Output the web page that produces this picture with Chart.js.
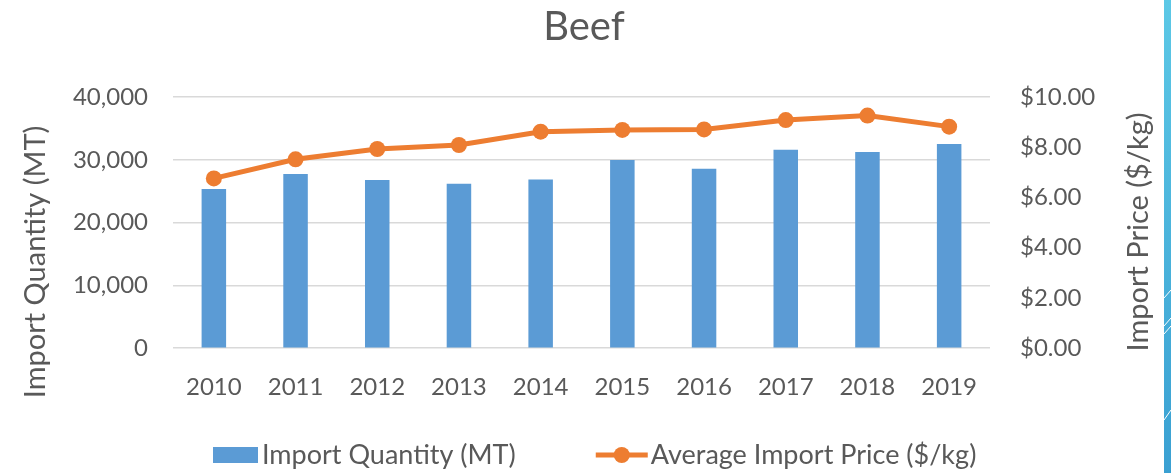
<!DOCTYPE html>
<html>
<head>
<meta charset="utf-8">
<script src="https://cdn.jsdelivr.net/npm/chart.js@4.4.1/dist/chart.umd.min.js"></script>
<style>
  html, body { margin: 0; padding: 0; background: #fff; }
  #wrap { position: relative; width: 1171px; height: 473px; }
  #strip {
    position: absolute; left: 1164px; top: 0; width: 7px; height: 473px;
    background: linear-gradient(#5cc8e6, #3aa0d2);
  }
</style>
</head>
<body>
<div id="wrap">
  <canvas id="chart" width="1171" height="473"></canvas>
  <div id="strip">
    <svg width="7" height="473">
      <g stroke="#fff" stroke-width="1">
        <line x1="0" y1="298" x2="7" y2="290"/>
        <line x1="0" y1="326" x2="7" y2="318"/>
        <line x1="0" y1="334" x2="7" y2="326"/>
        <line x1="0" y1="420" x2="7" y2="410"/>
      </g>
    </svg>
  </div>
</div>
<script>
const years = ['2010', '2011', '2012', '2013', '2014', '2015', '2016', '2017', '2018', '2019']
const importQuantity = [25340, 27730, 26770, 26180, 26880, 29960, 28570, 31600, 31240, 32510]
const avgImportPrice = [6.76, 7.52, 7.93, 8.09, 8.62, 8.69, 8.71, 9.08, 9.26, 8.82]

const textColor = '#595959'
const fontFamily = 'Lato, "Open Sans", sans-serif'

function verticalText(ctx, text, x, y) {
  ctx.save()
  ctx.translate(x, y)
  ctx.rotate(-Math.PI / 2)
  ctx.fillText(text, 0, 0)
  ctx.restore()
}

// legend and both axis titles drawn by hand
const extras = {
  id: 'extras',
  afterDraw(chart) {
    const ctx = chart.ctx
    const area = chart.chartArea
    const bars = chart.data.datasets.find(d => d.type !== 'line')
    const line = chart.data.datasets.find(d => d.type === 'line')
    ctx.save()

    ctx.font = '29px ' + fontFamily
    ctx.fillStyle = textColor
    ctx.textAlign = 'center'
    ctx.textBaseline = 'middle'
    verticalText(ctx, 'Import Quantity (MT)', chart.scales.y.left + 32, area.top + 165)
    verticalText(ctx, 'Import Price ($/kg)', chart.scales.y1.right - 25, area.top + 135)

    ctx.font = '27px ' + fontFamily
    ctx.textAlign = 'left'
    const w1 = ctx.measureText(bars.label).width
    let x = area.left + 40
    const y = 455

    ctx.fillStyle = bars.backgroundColor
    ctx.fillRect(x, y - 8, 45, 16)
    x += 49
    ctx.fillStyle = textColor
    ctx.fillText(bars.label, x, y)
    x += w1 + 80

    ctx.strokeStyle = line.borderColor
    ctx.lineWidth = 5
    ctx.beginPath()
    ctx.moveTo(x, y)
    ctx.lineTo(x + 52, y)
    ctx.stroke()
    ctx.fillStyle = line.borderColor
    ctx.beginPath()
    ctx.arc(x + 26, y, 8, 0, Math.PI * 2)
    ctx.fill()
    x += 55
    ctx.fillStyle = textColor
    ctx.fillText(line.label, x, y)
    ctx.restore()
  }
}

new Chart(document.getElementById('chart').getContext('2d'), {
  type: 'bar',
  data: {
    labels: years,
    datasets: [
      {
        type: 'line',
        label: 'Average Import Price ($/kg)',
        data: avgImportPrice,
        yAxisID: 'y1',
        borderColor: '#ED7D31',
        backgroundColor: '#ED7D31',
        borderWidth: 5,
        pointRadius: 8,
        pointBackgroundColor: '#ED7D31',
        pointBorderWidth: 0,
        tension: 0,
        order: 0
      },
      {
        type: 'bar',
        label: 'Import Quantity (MT)',
        data: importQuantity,
        yAxisID: 'y',
        backgroundColor: '#5B9BD5',
        barPercentage: 0.3,
        categoryPercentage: 1,
        order: 1
      }
    ]
  },
  options: {
    responsive: false,
    animation: false,
    layout: {
      padding: { left: 4, right: 7, top: 0, bottom: 54 }
    },
    plugins: {
      legend: { display: false },
      tooltip: { enabled: false },
      title: {
        display: true,
        text: 'Beef',
        color: textColor,
        font: { family: fontFamily, size: 40, weight: 'normal' },
        padding: { top: 3, bottom: 46 }
      }
    },
    scales: {
      x: {
        grid: { display: false },
        border: { display: false },
        ticks: {
          color: textColor,
          padding: 17,
          font: { family: fontFamily, size: 24 }
        }
      },
      y: {
        position: 'left',
        min: 0,
        max: 40000,
        afterFit: s => { s.width = 169 },
        grid: { color: '#d9d9d9', lineWidth: 1.5, drawTicks: false },
        border: { display: false },
        ticks: {
          stepSize: 10000,
          color: textColor,
          padding: 25,
          font: { family: fontFamily, size: 24 },
          callback: v => v.toLocaleString('en-US')
        }
      },
      y1: {
        position: 'right',
        min: 0,
        max: 10,
        afterFit: s => { s.width = 174 },
        grid: { display: false, drawTicks: false },
        border: { display: false },
        ticks: {
          stepSize: 2,
          color: textColor,
          padding: 30,
          font: { family: fontFamily, size: 24 },
          callback: v => '$' + v.toFixed(2)
        }
      }
    }
  },
  plugins: [extras]
})
</script>
</body>
</html>
